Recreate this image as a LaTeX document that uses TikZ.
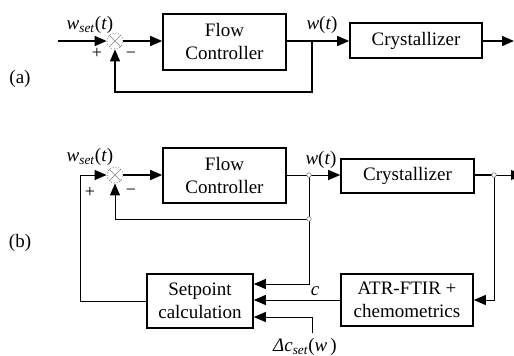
\documentclass[tikz,border=0pt]{standalone}
\usepackage{fontspec}
\setmainfont{Liberation Serif}
\newfontfamily\tms{Liberation Serif}
\usetikzlibrary{arrows.meta,calc}
\begin{document}
\begin{tikzpicture}[x=1pt,y=-1pt,
  box/.style={draw,line width=1.6pt,inner sep=0pt,align=center,font=\tms\fontsize{19}{23}\selectfont},
  sumj/.style={circle,draw=gray,dotted,line width=0.8pt,minimum size=16pt,inner sep=0pt},
  wire/.style={line width=1.4pt},
  thin/.style={line width=1pt},
  arr/.style={-{Triangle[length=12pt,width=10pt]}},
  jdot/.style={circle,draw=gray,fill=white,line width=0.6pt,minimum size=4.5pt,inner sep=0pt},
  lbl/.style={font=\tms\fontsize{19}{21}\selectfont,inner sep=0pt},
  sgn/.style={font=\tms\fontsize{18}{20}\selectfont,inner sep=0pt}]
\useasboundingbox (0,0) rectangle (514,356);
\clip (0,0) rectangle (514,356);
% ---------- panel (a)
\node[lbl] (la) at (20,79) {(a)};
\node[sumj] (sa) at (115,41) {};
\draw[gray,line width=0.7pt] (sa.45) -- (sa.225) (sa.135) -- (sa.315);
\node[box,minimum width=123pt,minimum height=56pt] (fca) at (224.5,42) {Flow\\Controller};
\node[box,minimum width=132pt,minimum height=35pt] (cra) at (416,40.5) {Crystallizer};
\coordinate (ina) at (58,41);
\coordinate (outa) at (514,41);
\coordinate (bra) at (312,41);
\coordinate (fba) at (312,92);
\draw[wire,arr] (ina) -- (sa.west);
\draw[wire,arr] (sa.east) -- (sa.east -| fca.west);
\draw[wire,arr] (fca.east |- bra) -- (bra -| cra.west);
\draw[wire,arr] (cra.east |- outa) -- (outa);
\draw[wire,arr] (bra) -- (fba) -| (sa.south);
\node[lbl] (wseta) at (90,25) {\textit{w}\textsubscript{\textit{set}}(\textit{t})};
\node[lbl] (wa) at (322,25) {\textit{w}(\textit{t})};
\node[sgn] (pa) at (97,53) {+};
\node[sgn] (ma) at (131,55) {−};
% ---------- panel (b)
\node[lbl] (lb) at (20,243) {(b)};
\node[sumj] (sb) at (115,175) {};
\draw[gray,line width=0.7pt] (sb.45) -- (sb.225) (sb.135) -- (sb.315);
\node[box,minimum width=123pt,minimum height=55pt] (fcb) at (224.5,175.5) {Flow\\Controller};
\node[box,minimum width=133pt,minimum height=34pt] (crb) at (407.5,176) {Crystallizer};
\node[box,minimum width=106pt,minimum height=54pt] (sp) at (200,301) {Setpoint\\calculation};
\node[box,minimum width=132pt,minimum height=52pt] (atr) at (407,300) {ATR-FTIR +\\chemometrics};
\coordinate (inb) at (80,175);
\coordinate (brw) at (309,175);
\coordinate (brf) at (309,219);
\coordinate (brs) at (309,284);
\coordinate (brc) at (494,175);
\coordinate (outb) at (523,175);
\coordinate (dcs) at (312,333);
\draw[thin,arr] (sp.west) -| (inb) -- (sb.west);
\draw[wire,arr] (sb.east) -- (sb.east -| fcb.west);
\draw[thin,arr] (fcb.east |- brw) -- (brw -| crb.west);
\draw[thin] (brw) -- (brf);
\draw[thin,arr] (brf) -| (sb.south);
\draw[thin,arr] (brf) -- (brs) -- (brs -| sp.east);
\draw[wire] (crb.east |- brc) -- (brc);
\draw[thin,arr] (brc) -- (outb);
\draw[thin,arr] (brc) |- (atr.east);
\draw[thin,arr] (atr.west) -- (atr.west -| sp.east);
\draw[thin,arr] (dcs) |- ($(sp.east)+(0,16)$);
\node[jdot] (jw) at (brw) {};
\node[jdot] (jf) at (brf) {};
\node[jdot] (jc) at (brc) {};
\node[lbl] (wsetb) at (90,157) {\textit{w}\textsubscript{\textit{set}}(\textit{t})};
\node[lbl] (wb) at (321,160) {\textit{w}(\textit{t})};
\node[lbl] (cl) at (315,291) {\textit{c}};
\node[lbl] (dcl) at (305,347) {\textit{Δc}\textsubscript{\textit{set}}(\textit{w}\,)};
\node[sgn] (pb) at (90,192) {+};
\node[sgn] (mb) at (131,192) {−};
\end{tikzpicture}
\end{document}
